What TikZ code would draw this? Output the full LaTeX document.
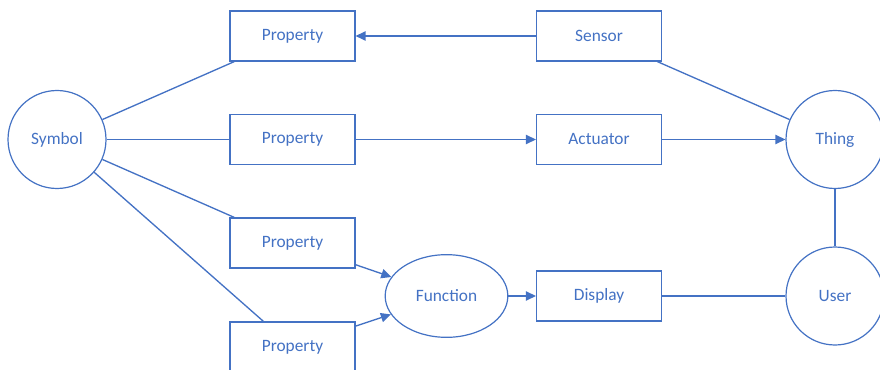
\documentclass[tikz,border=0pt]{standalone}
\usepackage{fontspec}
\setmainfont{Carlito}
\usetikzlibrary{arrows.meta,shapes.geometric}
\definecolor{office}{HTML}{4472C4}
\begin{document}
\begin{tikzpicture}[x=0.75pt,y=-0.75pt,
    every node/.style={draw=office,fill=white,text=office,line width=0.9pt,font=\fontsize{13}{15}\selectfont},
    box/.style={rectangle,minimum width=93.75pt,minimum height=37.5pt},
    round/.style={circle,minimum size=73.5pt},
    oval/.style={ellipse,minimum width=92pt,minimum height=62pt},
    link/.style={draw=office,line width=1pt},
    flow/.style={link,-{Triangle[length=7.5pt,width=7pt]}}]
  \clip (0,0) rectangle (880,370);
  \draw
    (57,139.5) node[round] (symbol){Symbol}
    (292.5,36) node[box] (prop1){Property}
    (292.5,139.5) node[box] (prop2){Property}
    (292.5,243) node[box] (prop3){Property}
    (292.5,347) node[box] (prop4){Property}
    (599,36) node[box] (sensor){Sensor}
    (599,139.5) node[box] (actuator){Actuator}
    (599,296) node[box] (display){Display}
    (446.5,296) node[oval] (function){Function}
    (835,139.5) node[round] (thing){Thing}
    (835,296) node[round] (user){User};
  \begin{scope}[link]
    \draw (symbol) to (prop1);
    \draw (symbol) to (prop2);
    \draw (symbol) to (prop3);
    \draw (symbol) to (prop4);
    \draw (sensor) to (thing);
    \draw (display) to (user);
    \draw (thing) to (user);
    \draw[flow] (sensor) to (prop1);
    \draw[flow] (prop2) to (actuator);
    \draw[flow] (actuator) to (thing);
    \draw[flow] (prop3) to (function);
    \draw[flow] (prop4) to (function);
    \draw[flow] (function) to (display);
  \end{scope}
\end{tikzpicture}
\end{document}
